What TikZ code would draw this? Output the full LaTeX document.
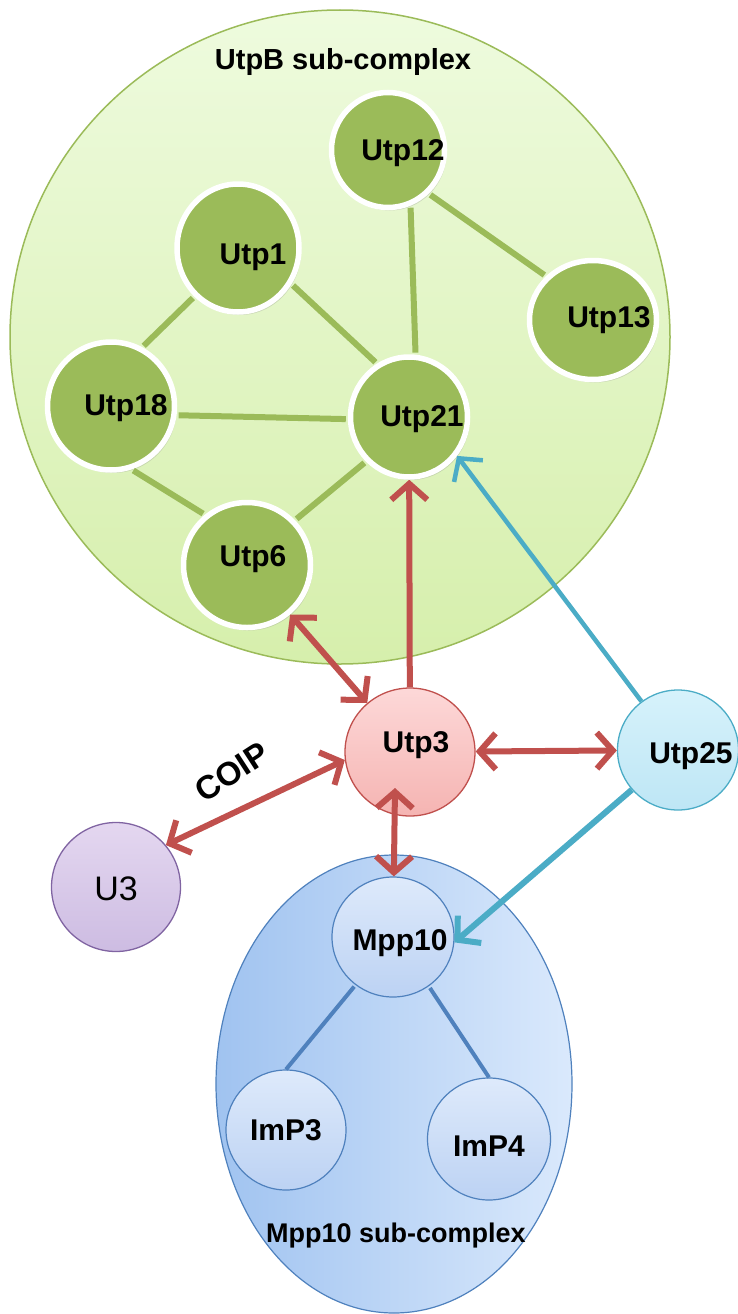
\documentclass[tikz,border=0pt]{standalone}
\usepackage{fontspec}
\setmainfont{Liberation Sans}
\usepackage{tikz}
\usetikzlibrary{shapes.geometric,arrows.meta,shadows,calc}
\definecolor{leafgreen}{RGB}{155,187,89}
\definecolor{rustred}{RGB}{192,80,77}
\definecolor{aqua}{RGB}{75,172,198}
\definecolor{steelblue}{RGB}{79,129,189}
\definecolor{plum}{RGB}{128,100,162}

\tikzset{
    lbl/.style={font=\fontsize{30}{34}\selectfont\bfseries},
    gnode/.style={ellipse, inner sep=0pt, fill=leafgreen, draw=white, line width=5.5pt,
        drop shadow={opacity=0.25, shadow xshift=2pt, shadow yshift=-3pt}},
    bnode/.style={ellipse, inner sep=0pt, draw=steelblue, line width=1.2pt,
        top color={rgb,255:red,222;green,234;blue,251}, bottom color={rgb,255:red,188;green,210;blue,243}},
    glink/.style={leafgreen, line width=6pt, shorten <=2pt, shorten >=2pt},
    blink/.style={steelblue, line width=4pt, shorten <=2pt},
    redarr/.style={rustred, line width=6pt},
    aquaarr/.style={aqua, line width=4.5pt}
}

\begin{document}
\begin{tikzpicture}[x=1pt, y=-1pt, >={Straight Barb[length=16pt,width=36pt]}]
    \useasboundingbox (0,0) rectangle (738,1314);

    % Sub-complex backgrounds
    \node[ellipse, minimum width=660pt, minimum height=654pt, draw=leafgreen, line width=1.5pt,
        top color={rgb,255:red,238;green,251;blue,222}, bottom color={rgb,255:red,214;green,239;blue,172}] (utpb) at (340,337) {};
    \node[lbl, font=\fontsize{29}{32}\selectfont\bfseries] (utpbtitle) at (343,62) {UtpB sub-complex};

    \node[ellipse, minimum width=356pt, minimum height=458pt, draw=steelblue, line width=1.2pt,
        left color={rgb,255:red,160;green,195;blue,240}, right color={rgb,255:red,218;green,233;blue,252}] (mppc) at (394,1084) {};
    \node[lbl, font=\fontsize{27}{30}\selectfont\bfseries] (mpptitle) at (396,1236) {Mpp10 sub-complex};

    % UtpB members
    \foreach \nm/\txt/\px/\py/\bw/\bh/\sx/\sy in {
        utp12/Utp12/388/150/113/115/15/-3,
        utp1/Utp1/238/248/122/128/15/-9,
        utp13/Utp13/593/320/127/119/16/0,
        utp18/Utp18/111/406/127/128/15/-2,
        utp21/Utp21/409/417/117/120/13/-2,
        utp6/Utp6/247/565/127/125/6/6} {
        \node[gnode, minimum width=\bw pt, minimum height=\bh pt,
            label={[lbl, xshift=\sx pt, yshift=\sy pt]center:\txt}] (\nm) at (\px,\py) {};
    }

    \foreach \a/\b in {utp12.-47/utp13.137, utp12.-68/utp21.84, utp1.228/utp18.62,
        utp1.-34/utp21.121, utp18.-8/utp21.182, utp18.-72/utp6.130, utp6.43/utp21.226} {
        \draw[glink] (\a) -- (\b);
    }

    % Mpp10 members
    \node[bnode, minimum width=122pt, minimum height=120pt,
        label={[lbl, xshift=7pt, yshift=-6pt]center:Mpp10}] (mpp10) at (393,937) {};
    \node[bnode, minimum width=120pt, minimum height=120pt, label={[lbl]center:ImP3}] (imp3) at (286,1130) {};
    \node[bnode, minimum width=123pt, minimum height=122pt,
        label={[lbl, yshift=-7pt]center:ImP4}] (imp4) at (489,1139) {};
    \draw[blink] (mpp10.-128) -- (imp3.north);
    \draw[blink] (mpp10.-54) -- (imp4.north);

    % Other proteins
    \node[ellipse, inner sep=0pt, minimum width=130pt, minimum height=128pt, draw=rustred, line width=1.3pt,
        top color={rgb,255:red,253;green,216;blue,216}, bottom color={rgb,255:red,245;green,180;blue,178},
        label={[lbl, xshift=6pt, yshift=7pt]center:Utp3}] (utp3) at (410,752) {};
    \node[ellipse, inner sep=0pt, minimum width=121pt, minimum height=120pt, draw=aqua, line width=1.3pt,
        top color={rgb,255:red,214;green,242;blue,251}, bottom color={rgb,255:red,190;green,230;blue,245},
        label={[lbl, xshift=13pt, yshift=-6pt]center:Utp25}] (utp25) at (678,750) {};
    \node[ellipse, inner sep=0pt, minimum width=129pt, minimum height=129pt, draw=plum, line width=1.3pt,
        top color={rgb,255:red,228;green,215;blue,240}, bottom color={rgb,255:red,205;green,188;blue,226},
        label={[font=\fontsize{34}{38}\selectfont, yshift=-2pt]center:U3}] (u3) at (116,887) {};

    % Interactions
    \coordinate (utp3in) at (395,788);
    \draw[redarr, <->] (utp6) -- (utp3);
    \draw[redarr, ->] (utp3) -- (utp21);
    \draw[redarr, <->] (utp3) -- (utp25);
    \draw[redarr, <->] (utp3.187) -- (u3.40);
    \draw[redarr, <->] (utp3in) -- (mpp10);
    \draw[aquaarr, ->] (utp25) -- (utp21.-39);
    \draw[aquaarr, line width=6pt, ->] (utp25) -- (mpp10.-5);

    \node[lbl, font=\fontsize{33}{36}\selectfont\bfseries, rotate=33, inner sep=0pt] (coip) at (232,772) {COIP};

\end{tikzpicture}
\end{document}
